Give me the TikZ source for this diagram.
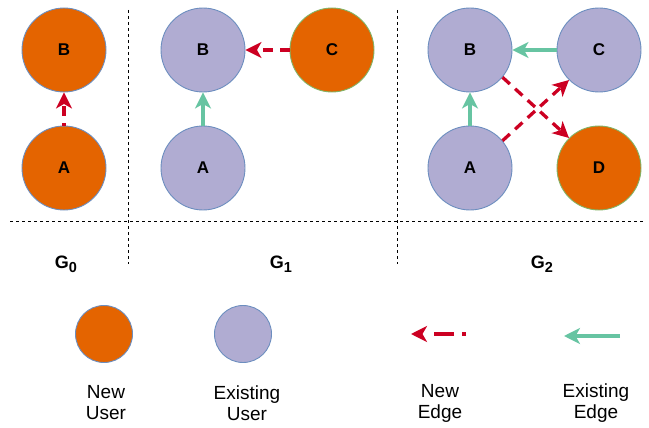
\documentclass[tikz,border=0pt]{standalone}
\usepackage{fontspec}
\setmainfont{Liberation Sans}
\usetikzlibrary{arrows.meta}
\definecolor{neworange}{RGB}{228,100,0}
\definecolor{oldlav}{RGB}{176,172,210}
\definecolor{blueedge}{RGB}{108,142,191}
\definecolor{greenedge}{RGB}{130,179,102}
\definecolor{newred}{RGB}{204,0,34}
\definecolor{oldgreen}{RGB}{103,196,162}
\tikzset{
  usernode/.style={circle, minimum size=84pt, inner sep=0pt, line width=0.9pt, font=\fontsize{17}{19}\selectfont\bfseries},
  newuser/.style={usernode, fill=neworange, draw=blueedge},
  newuserg/.style={usernode, fill=neworange, draw=greenedge},
  olduser/.style={usernode, fill=oldlav, draw=blueedge},
  newedge/.style={draw=newred, line width=3.3pt, dash pattern=on 10pt off 7pt, -{Stealth[length=16pt,width=16pt,inset=4.5pt]}},
  oldedge/.style={draw=oldgreen, line width=3.6pt, -{Stealth[length=16pt,width=16pt,inset=4.5pt]}},
  sep/.style={draw=black, line width=0.9pt, dash pattern=on 3pt off 3pt},
  glabel/.style={font=\fontsize{18}{20}\selectfont\bfseries, anchor=base},
  legtext/.style={font=\fontsize{19}{21}\selectfont, align=center},
}
\newcommand{\gsub}[1]{G\raisebox{-4.5pt}{\fontsize{14.5}{16}\selectfont #1}}
\begin{document}
\begin{tikzpicture}[x=1pt,y=-1pt]
\useasboundingbox (0,0) rectangle (649,428);
% separators
\coordinate (h1) at (10,221); \coordinate (h2) at (645,221);
\coordinate (v1a) at (128,10); \coordinate (v1b) at (128,264);
\coordinate (v2a) at (397,10); \coordinate (v2b) at (397,264);
\draw[sep] (h1) -- (h2);
\draw[sep] (v1a) -- (v1b);
\draw[sep] (v2a) -- (v2b);
% G0
\node[newuser] (g0b) at (64,50) {B};
\node[newuser] (g0a) at (64,168) {A};
\draw[newedge, dash phase=7pt] (g0a) -- (g0b);
% G1
\node[olduser] (g1b) at (203,50) {B};
\node[olduser] (g1a) at (203,168) {A};
\node[newuserg] (g1c) at (332,50) {C};
\draw[oldedge] (g1a) -- (g1b);
\draw[newedge] (g1c) -- (g1b);
% G2
\node[olduser] (g2b) at (470,50) {B};
\node[olduser] (g2c) at (599,50) {C};
\node[olduser] (g2a) at (470,168) {A};
\node[newuserg] (g2d) at (599,168) {D};
\draw[oldedge] (g2a) -- (g2b);
\draw[oldedge] (g2c) -- (g2b);
\draw[newedge] (g2a.40) -- (g2c.225);
\draw[newedge] (g2b.-40) -- (g2d.135);
% labels
\node[glabel] (l0) at (66,268) {\gsub{0}};
\node[glabel] (l1) at (281,268) {\gsub{1}};
\node[glabel] (l2) at (542,268) {\gsub{2}};
% legend
\node[circle, minimum size=57pt, inner sep=0pt, fill=neworange, draw=blueedge, line width=0.9pt] (lnu) at (104,334) {};
\node[circle, minimum size=57pt, inner sep=0pt, fill=oldlav, draw=blueedge, line width=0.9pt] (leu) at (243,334) {};
\coordinate (ne1) at (466,334); \coordinate (ne2) at (411,334);
\draw[newedge, dash pattern=on 4pt off 8pt on 20pt off 30pt] (ne1) -- (ne2);
\coordinate (ee1) at (620,336); \coordinate (ee2) at (564,336);
\draw[oldedge] (ee1) -- (ee2);
\node[legtext] (tnu) at (106,403) {New\\User};
\node[legtext] (teu) at (247,403) {Existing\\User};
\node[legtext] (tne) at (440,403) {New\\Edge};
\node[legtext] (tee) at (596,403) {Existing\\Edge};
\end{tikzpicture}
\end{document}
